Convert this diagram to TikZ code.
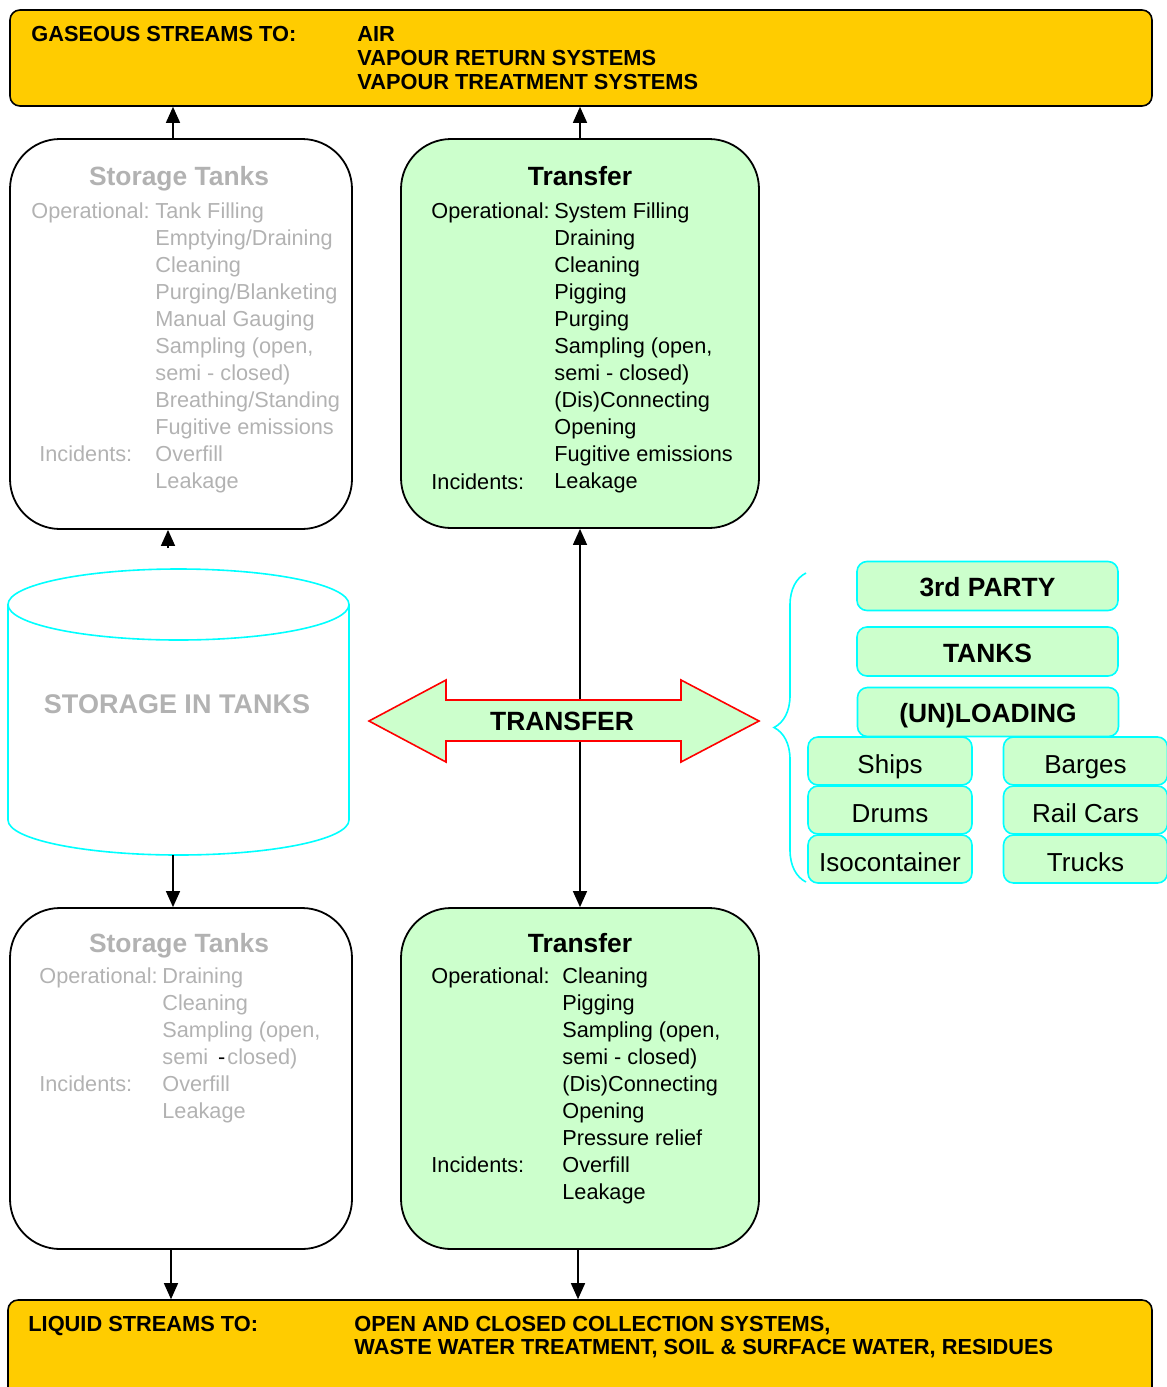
\documentclass[tikz,border=0pt]{standalone}
\usepackage{fontspec}
\setmainfont{Liberation Sans}
\usetikzlibrary{arrows.meta, decorations.pathreplacing}

\definecolor{bandyellow}{HTML}{FFCC00}
\definecolor{mint}{HTML}{CCFFCC}
\definecolor{faded}{HTML}{B2B2B2}
\definecolor{aqua}{HTML}{00FFFF}

\begin{document}
\begin{tikzpicture}[x=0.5pt, y=-0.5pt, >={Triangle[length=8pt,width=7pt]},
  link/.style={line width=0.7pt},
  stream/.style={draw, fill=bandyellow, rounded corners=5pt, line width=0.8pt},
  opbox/.style={draw, rounded corners=25pt, line width=0.9pt},
  title/.style={font=\fontsize{13.2}{15}\selectfont\bfseries},
  item/.style={anchor=base west, inner sep=0pt, font=\fontsize{10.85}{13}\selectfont},
  bandtext/.style={anchor=base west, inner sep=0pt, font=\fontsize{10.9}{12}\selectfont\bfseries},
  party/.style={draw=aqua, fill=mint, rounded corners=5pt, line width=0.8pt, inner sep=0pt, text depth=0pt},
  headbox/.style={party, font=\fontsize{13.2}{15}\selectfont\bfseries, text height=10.9pt, minimum width=130.5pt, minimum height=24.5pt},
  crate/.style={party, font=\fontsize{13}{15}\selectfont, text height=12.2pt, minimum width=82pt, minimum height=24pt}]
\useasboundingbox (0,0) rectangle (1167,1387);

\node	[stream, minimum width=571pt, minimum height=48pt]	(gas)		at (581,58)	{};
\node	[stream, minimum width=572pt, minimum height=50pt]	(liquid)	at (580,1350)	{};
\node	[bandtext]	at (31,41)	{GASEOUS STREAMS TO:};
\node	[bandtext]	at (357,41)	{AIR};
\node	[bandtext]	at (357,65)	{VAPOUR RETURN SYSTEMS};
\node	[bandtext]	at (357,89)	{VAPOUR TREATMENT SYSTEMS};
\node	[bandtext]	at (28,1331)	{LIQUID STREAMS TO:};
\node	[bandtext]	at (354,1331)	{OPEN AND CLOSED COLLECTION SYSTEMS,};
\node	[bandtext]	at (354,1354)	{WASTE WATER TREATMENT, SOIL \& SURFACE WATER, RESIDUES};

\node	[opbox, minimum width=171pt, minimum height=195pt]		(sttop)	at (181,334)	{};
\node	[opbox, fill=mint, minimum width=179pt, minimum height=194.5pt]	(trtop)	at (580,333.5)	{};
\node	[opbox, minimum width=171pt, minimum height=170.5pt]		(stbot)	at (181,1078.5)	{};
\node	[opbox, fill=mint, minimum width=179pt, minimum height=170.5pt]	(trbot)	at (580,1078.5)	{};

\node	[title, text=faded, anchor=base]	at (179,185.5)	{Storage Tanks};
\node	[item, text=faded]	at (31,218)	{Operational:};
\node	[item, text=faded]	at (39,461)	{Incidents:};
\foreach \t [count=\i from 0] in {Tank Filling, Emptying/Draining, Cleaning, Purging/Blanketing, Manual Gauging, {Sampling (open,}, semi - closed), Breathing/Standing, Fugitive emissions, Overfill, Leakage}
  \node	[item, text=faded]	at (155,218+27*\i)	{\t};

\node	[title, anchor=base]	at (580,185.5)	{Transfer};
\node	[item]	at (431,218)	{Operational:};
\node	[item]	at (431,489)	{Incidents:};
\foreach \t [count=\i from 0] in {System Filling, Draining, Cleaning, Pigging, Purging, {Sampling (open,}, semi - closed), (Dis)Connecting, Opening, Fugitive emissions, Leakage}
  \node	[item]	at (554,218+27*\i)	{\t};

\node	[title, text=faded, anchor=base]	at (179,952.5)	{Storage Tanks};
\node	[item, text=faded]	at (39,983)	{Operational:};
\node	[item, text=faded]	at (39,1091)	{Incidents:};
\foreach \t [count=\i from 0] in {Draining, Cleaning, {Sampling (open,}, {semi\hspace{5pt}\textcolor{black}{-}\hspace{1pt}closed)}, Overfill, Leakage}
  \node	[item, text=faded]	at (162,983+27*\i)	{\t};

\node	[title, anchor=base]	at (580,952.5)	{Transfer};
\node	[item]	at (431,983)	{Operational:};
\node	[item]	at (431,1172)	{Incidents:};
\foreach \t [count=\i from 0] in {Cleaning, Pigging, {Sampling (open,}, semi - closed), (Dis)Connecting, Opening, Pressure relief, Overfill, Leakage}
  \node	[item]	at (562,983+27*\i)	{\t};

\draw	[aqua, line width=0.8pt] (178.5,604.5) ellipse [x radius=170.5, y radius=35.5];
\draw	[aqua, line width=0.8pt] (8,604.5) -- (8,820) arc [start angle=180, end angle=0, x radius=170.5, y radius=35] -- (349,604.5);
\node	[font=\fontsize{13.5}{15}\selectfont\bfseries, text=faded]	(tank)	at (177,704)	{STORAGE IN TANKS};
\coordinate	(tanktop)	at (168,548);
\coordinate	(tankbot)	at (173,855);

\coordinate	(s1)	at ([xshift=-4pt]sttop.north);
\coordinate	(s2)	at ([xshift=-5pt]stbot.south);
\coordinate	(t2)	at ([xshift=-1pt]trbot.south);
\draw	[link, ->]	(s1) -- (s1 |- gas.south);
\draw	[link, ->]	(trtop.north) -- (trtop.north |- gas.south);
\draw	[link, ->]	(tanktop) -- (tanktop |- sttop.south);
\draw	[link, ->]	(tankbot) -- (tankbot |- stbot.north);
\draw	[link, ->]	(s2) -- (s2 |- liquid.north);
\draw	[link, ->]	(t2) -- (t2 |- liquid.north);
\draw	[link, <->]	(trtop.south) -- (trbot.north);

\draw	[red, fill=mint, line width=0.8pt] (369,721) -- (446,680) -- (446,700) -- (681,700) -- (681,680) -- (759,721)
	-- (681,762) -- (681,741) -- (446,741) -- (446,762) -- cycle;
\node	[title]	(transfer)	at (562,721)	{TRANSFER};

\draw	[aqua, line width=0.8pt, decorate, decoration={brace, amplitude=16pt}] (806,882) -- (806,573);
\node	[headbox]	(third)		at (987.5,586)	{3rd PARTY};
\node	[headbox]	(tanks)		at (987.5,651.5)	{TANKS};
\node	[headbox]	(unload)	at (988,712)	{(UN)LOADING};
\node	[crate]		(ships)		at (890,761)	{Ships};
\node	[crate]		(drums)		at (890,810)	{Drums};
\node	[crate]		(iso)		at (890,859)	{Isocontainer};
\node	[crate]		(barges)	at (1085.5,761)	{Barges};
\node	[crate]		(rail)		at (1085.5,810)	{Rail Cars};
\node	[crate]		(trucks)	at (1085.5,859)	{Trucks};
\end{tikzpicture}
\end{document}
